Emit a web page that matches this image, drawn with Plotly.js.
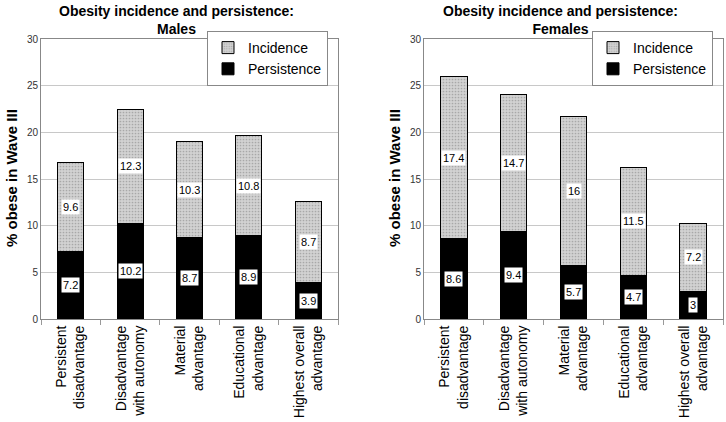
<!DOCTYPE html>
<html>
<head>
<meta charset="utf-8">
<script src="https://cdn.plot.ly/plotly-3.0.1.min.js"></script>
<style>html,body{margin:0;padding:0;background:#fff}#chart{width:726px;height:422px}</style>
</head>
<body>
<div id="chart"></div>
<script>
const categories = ["Persistent<br>disadvantage", "Disadvantage<br>with autonomy", "Material<br>advantage", "Educational<br>advantage", "Highest overall<br>advantage"];
const malePersistence = [7.2, 10.2, 8.7, 8.9, 3.9];
const maleIncidence = [9.6, 12.3, 10.3, 10.8, 8.7];
const femalePersistence = [8.6, 9.4, 5.7, 4.7, 3];
const femaleIncidence = [17.4, 14.7, 16, 11.5, 7.2];
const yTicks = [0, 5, 10, 15, 20, 25, 30];

const FONT = "Liberation Sans, Arial, sans-serif";
const incMarker = {color: "#cdcdcd", line: {color: "#000", width: 1},
  pattern: {shape: ".", fgcolor: "#a8a8a8", bgcolor: "#d2d2d2", size: 3, solidity: 0.25}};
const perMarker = {color: "#000", line: {color: "#000", width: 1}};

function pair(pers, inc, xa, ya, lg) {
  return [
    {type: "bar", x: categories, y: pers, name: "Persistence", marker: perMarker,
     xaxis: xa, yaxis: ya, legend: lg, hoverinfo: "skip"},
    {type: "bar", x: categories, y: inc, name: "Incidence", marker: incMarker,
     xaxis: xa, yaxis: ya, legend: lg, hoverinfo: "skip"}
  ];
}
const data = [].concat(
  pair(malePersistence, maleIncidence, "x", "y", "legend"),
  pair(femalePersistence, femaleIncidence, "x2", "y2", "legend2")
);

const annotations = [];
function labels(pers, inc, xref, yref) {
  categories.forEach((c, i) => {
    annotations.push({x: c, y: pers[i] / 2, xref: xref, yref: yref, text: String(pers[i]),
      showarrow: false, bgcolor: "#fff", borderpad: 1, font: {family: FONT, size: 11, color: "#000"}});
    annotations.push({x: c, y: pers[i] + inc[i] / 2, xref: xref, yref: yref, text: String(inc[i]),
      showarrow: false, bgcolor: "#fff", borderpad: 1, font: {family: FONT, size: 11, color: "#000"}});
  });
}
labels(malePersistence, maleIncidence, "x", "y");
labels(femalePersistence, femaleIncidence, "x2", "y2");

const titleFont = {family: FONT, size: 14, color: "#000"};
annotations.push({xref: "paper", yref: "paper", x: 176/726, xanchor: "center", y: 1 - 1/422, yanchor: "top", showarrow: false,
  text: "<b>Obesity incidence and persistence:</b><br><b>Males</b>", font: titleFont});
annotations.push({xref: "paper", yref: "paper", x: 560/726, xanchor: "center", y: 1 - 1/422, yanchor: "top", showarrow: false,
  text: "<b>Obesity incidence and persistence:</b><br><b>Females</b>", font: titleFont});
annotations.push({xref: "paper", yref: "paper", x: 11/726, xanchor: "center", y: 1 - 178/422, yanchor: "middle", textangle: -90, showarrow: false,
  text: "<b>% obese in Wave III</b>", font: {family: FONT, size: 15, color: "#000"}});
annotations.push({xref: "paper", yref: "paper", x: 394/726, xanchor: "center", y: 1 - 178/422, yanchor: "middle", textangle: -90, showarrow: false,
  text: "<b>% obese in Wave III</b>", font: {family: FONT, size: 15, color: "#000"}});

function xAxis(dom, anchor) {
  return {domain: dom, anchor: anchor, type: "category", tickangle: -90,
    tickfont: {family: FONT, size: 14, color: "#000"}, ticks: "outside", tickson: "boundaries",
    ticklen: 5, tickcolor: "#999", showline: true, linecolor: "#888", mirror: true, linewidth: 1,
    showgrid: false, fixedrange: true};
}
function yAxis(anchor) {
  return {domain: [1 - 319/422, 1 - 39/422], anchor: anchor, range: [0, 30], tickvals: yTicks,
    tickfont: {family: FONT, size: 10, color: "#333"}, showgrid: true, gridcolor: "#c8c8c8",
    showline: true, linecolor: "#888", mirror: true, ticks: "", zeroline: false, fixedrange: true};
}
const legendBase = {yanchor: "top", xanchor: "right", bgcolor: "#fff", bordercolor: "#888", borderwidth: 1,
  font: {family: FONT, size: 14, color: "#000"}, traceorder: "reversed", itemwidth: 30, tracegroupgap: 0};

const layout = {
  width: 726, height: 422, margin: {l: 0, r: 0, t: 0, b: 0},
  paper_bgcolor: "#fff", plot_bgcolor: "#fff", barmode: "stack", bargap: 0.56,
  font: {family: FONT},
  xaxis: xAxis([41/726, 338/726], "y"),
  yaxis: yAxis("x"),
  xaxis2: xAxis([424/726, 723/726], "y2"),
  yaxis2: yAxis("x2"),
  legend: Object.assign({}, legendBase, {x: 328/726, y: 1 - 31/422}),
  legend2: Object.assign({}, legendBase, {x: 713/726, y: 1 - 31/422}),
  annotations: annotations
};
Plotly.newPlot("chart", data, layout, {displayModeBar: false, staticPlot: true});
</script>
</body>
</html>
